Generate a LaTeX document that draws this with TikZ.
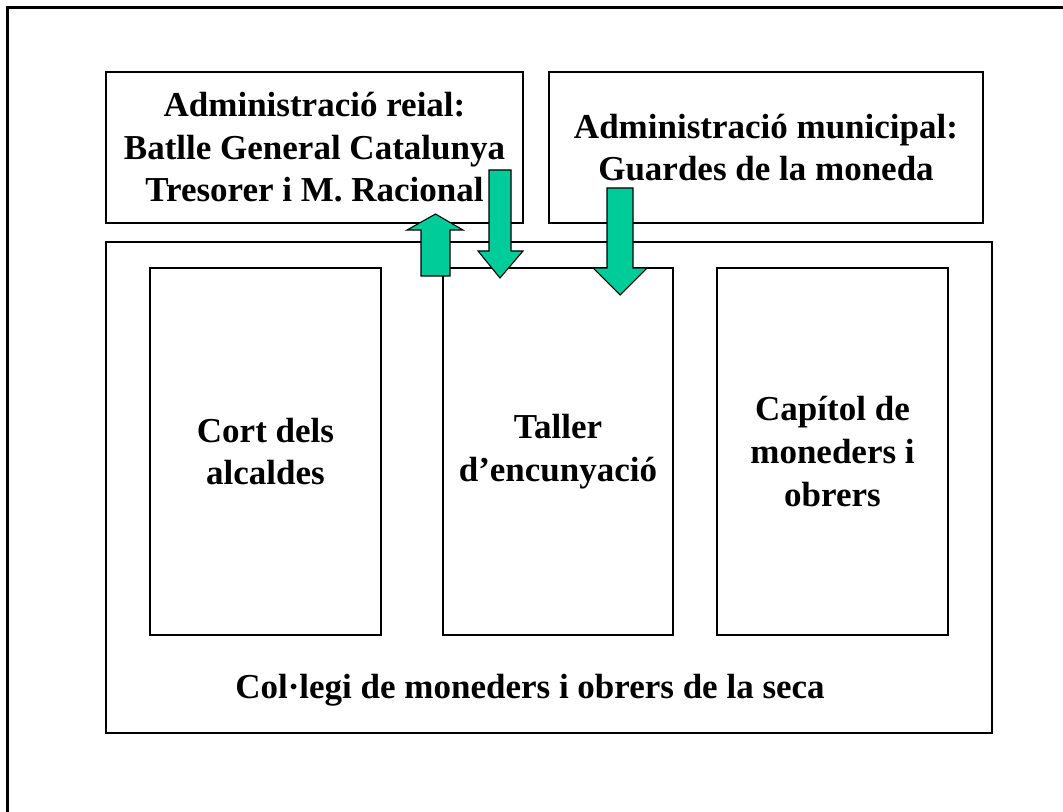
\documentclass[tikz,border=0pt]{standalone}
\usepackage{fontspec}
\setmainfont{Liberation Serif}
\definecolor{arrowgreen}{RGB}{0,204,153}
\tikzset{
  box/.style 2 args={draw, line width=0.8pt, minimum width=#1*0.75pt, minimum height=#2*0.75pt, inner sep=0pt, align=center},
  label/.style={align=center, font=\bfseries\fontsize{26.25}{31.9}\selectfont},
  blockarrow/.style={draw, line width=0.8pt, fill=arrowgreen}
}

\begin{document}
\begin{tikzpicture}[x=0.75pt,y=-0.75pt]
\useasboundingbox (0,0) rectangle (1063,812);
\draw[line width=1.6pt] (7.5,812) -- (7.5,7.5) -- (1063,7.5);
% upper boxes
\node[box={417}{151}, label] (reial) at (314.5,147.5) {Administració reial:\\Batlle General Catalunya\\Tresorer i M. Racional};
\node[box={434}{151}, label] (municipal) at (766,147.5) {Administració municipal:\\Guardes de la moneda};
% the seca
\node[box={886}{491}] (seca) at (549,487.5) {};
\node[label] (collegi) at (530,690) {Col·legi de moneders i obrers de la seca};
\node[box={231}{367}, label] (cort) at (265.5,451.5) {Cort dels\\alcaldes};
\node[box={230}{367}, label] (taller) at (558,451.5) {Taller\\d’encunyació};
\node[box={231}{367}, label] (capitol) at (832.5,451.5) {Capítol de\\moneders i\\obrers};
% arrows
\draw[blockarrow] (421,276) -- (421,230) -- (407,230) -- (435.5,214) -- (463,230) -- (450,230) -- (450,276) -- cycle;
\draw[blockarrow] (489,170) -- (511,170) -- (511,251) -- (523,251) -- (500,278) -- (478,251) -- (489,251) -- cycle;
\draw[blockarrow] (607,188) -- (633,188) -- (633,268) -- (647,268) -- (620,295) -- (593,268) -- (607,268) -- cycle;
\end{tikzpicture}
\end{document}
